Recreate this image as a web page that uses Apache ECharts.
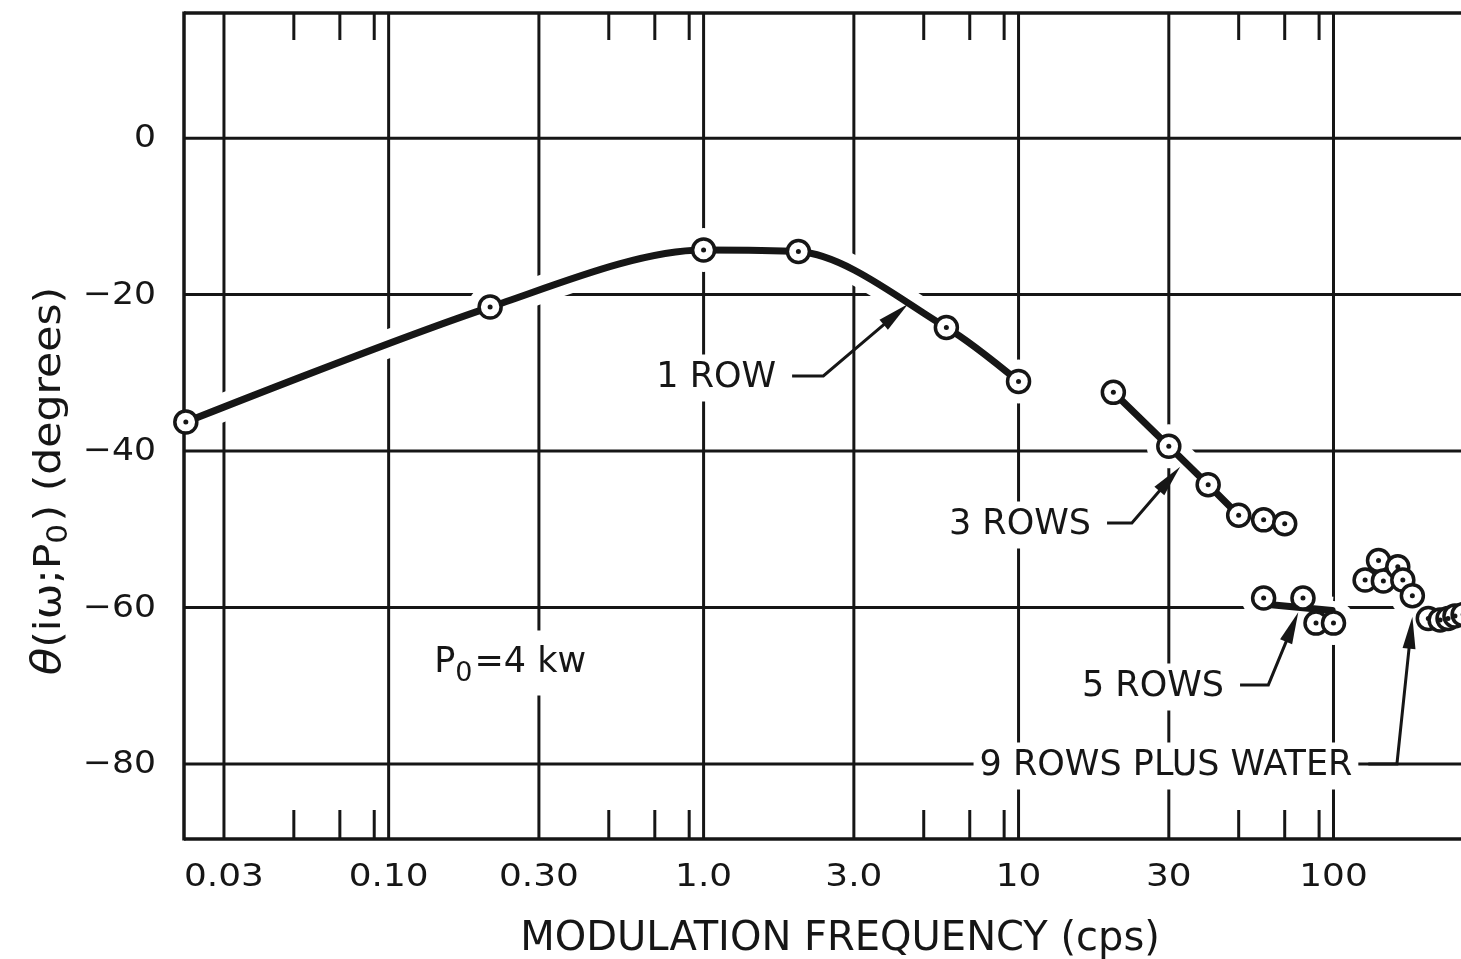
<!DOCTYPE html>
<html>
<head>
<meta charset="utf-8">
<title>θ(iω;P0) vs modulation frequency</title>
<script src="https://cdn.jsdelivr.net/npm/echarts@6.0.0/dist/echarts.min.js"></script>
<style>
  html, body { margin: 0; padding: 0; background: #fff; }
  #chart { width: 1461px; height: 959px; }
</style>
</head>
<body>
<div id="chart"></div>
<script>
// ---- measured phase (degrees) against modulation frequency (cps) ----
const oneRow = [[0.0227, -36.3], [0.21, -21.6], [1.0, -14.3], [2.0, -14.5], [5.9, -24.2], [10, -31.1]];
const threeRows = [[20, -32.5], [30, -39.4], [40, -44.3], [50, -48.2], [60, -48.8], [70, -49.3]];
const threeRowsLine = [[20, -32.5], [30, -39.4], [40, -44.3], [50, -48.2]];
const fiveRows = [[60, -58.8], [80, -58.8], [88, -62.0], [100, -62.0]];
const fiveRowsLine = [[61, -59.6], [99, -60.4]];
const nineRowsWater = [[126, -56.5], [139, -54.0], [144, -56.6], [160, -54.8], [166, -56.5], [178, -58.5],
                       [200, -61.4], [218, -61.6], [231, -61.4], [243, -61.1], [258, -60.9]];

// ---- axes ----
const xRange = [0.0224, 254];
const yRange = [-89.6, 16];
const xMajorTicks = [0.03, 0.1, 0.3, 1, 3, 10, 30, 100];
const xTickLabels = ['0.03', '0.10', '0.30', '1.0', '3.0', '10', '30', '100'];
const xMinorTicks = [0.05, 0.07, 0.09, 0.5, 0.7, 0.9, 5, 7, 9, 50, 70, 90];
const yTicks = [0, -20, -40, -60, -80];
const yTickLabels = ['0', '−20', '−40', '−60', '−80'];

// ---- annotations: text, then leader start, elbow, arrow tip ----
const notes = [
  { text: '1 ROW', path: [[1.91, -30.4], [2.40, -30.4], [4.46, -21.2]] },
  { text: '3 ROWS', path: [[19.1, -49.2], [22.9, -49.2], [32.6, -42.0]] },
  { text: '5 ROWS', path: [[50.5, -69.9], [62.1, -69.9], [77.3, -60.6]] },
  { text: '9 ROWS PLUS WATER', path: [[129, -80.0], [159, -80.0], [178, -61.2]] }
];
const powerNote = { at: [0.243, -67.1] };

const INK = '#161616';
const FONT = 'DejaVu Sans';
const SMOOTH = 0.3;
const allPoints = oneRow.concat(threeRows, fiveRows, nineRowsWater);

const chart = echarts.init(document.getElementById('chart'), null, { renderer: 'canvas' });

function lineEl(x1, y1, x2, y2, w) {
  return { type: 'line', shape: { x1, y1, x2, y2 }, style: { stroke: INK, lineWidth: w, lineCap: 'butt' } };
}

const series = [
  // vertical grid lines with frequency labels
  {
    type: 'custom', z: 0, silent: true, clip: false,
    data: xMajorTicks.map((v, i) => [v, yRange[0], i]),
    renderItem(params, api) {
      const cs = params.coordSys;
      const x = api.coord([api.value(0), yRange[0]])[0];
      return { type: 'group', children: [
        lineEl(x, cs.y, x, cs.y + cs.height, 3),
        { type: 'text', x: x, y: cs.y + cs.height + 39, scaleX: 1.12,
          style: { text: xTickLabels[api.value(2)], align: 'center', verticalAlign: 'middle',
                   fontSize: 32, fontFamily: FONT, fill: INK } }
      ]};
    }
  },
  // horizontal grid lines with phase labels
  {
    type: 'custom', z: 0, silent: true, clip: false,
    data: yTicks.map((v, i) => [xRange[0], v, i]),
    renderItem(params, api) {
      const cs = params.coordSys;
      const y = api.coord([xRange[0], api.value(1)])[1];
      return { type: 'group', children: [
        lineEl(cs.x, y, cs.x + cs.width, y, 3),
        { type: 'text', x: cs.x - 28, y: y + 1, scaleX: 1.08,
          style: { text: yTickLabels[api.value(2)], align: 'right', verticalAlign: 'middle',
                   fontSize: 32, fontFamily: FONT, fill: INK } }
      ]};
    }
  },
  // white clearance around the curves and points
  { type: 'line', z: 1, silent: true, data: oneRow, smooth: SMOOTH, showSymbol: false,
    lineStyle: { color: '#fff', width: 28, opacity: 1 } },
  { type: 'line', z: 1, silent: true, data: threeRowsLine, showSymbol: false,
    lineStyle: { color: '#fff', width: 28, opacity: 1 } },
  { type: 'line', z: 1, silent: true, data: fiveRowsLine, showSymbol: false,
    lineStyle: { color: '#fff', width: 28, opacity: 1 } },
  { type: 'scatter', z: 1, silent: true, clip: false, data: allPoints, symbolSize: 44,
    itemStyle: { color: '#fff', opacity: 1 } },
  // plot frame and minor ticks
  {
    type: 'custom', z: 2, silent: true, clip: false,
    data: [[xRange[0], yRange[0]]],
    renderItem(params, api) {
      const cs = params.coordSys;
      const top = cs.y, bottom = cs.y + cs.height, left = cs.x, right = cs.x + cs.width;
      const children = [
        lineEl(left, top - 1.5, left, bottom + 1.5, 3.5),
        lineEl(left, top, right, top, 3.5),
        lineEl(left, bottom, right, bottom, 3.5)
      ];
      xMinorTicks.forEach(v => {
        const x = api.coord([v, yRange[0]])[0];
        children.push(lineEl(x, top, x, top + 27, 3));
        children.push(lineEl(x, bottom, x, bottom - 29, 3));
      });
      return { type: 'group', children };
    }
  },
  // curves
  { name: '1 ROW', type: 'line', z: 3, silent: true, data: oneRow, smooth: SMOOTH, showSymbol: false,
    lineStyle: { color: INK, width: 7, cap: 'round', opacity: 1 } },
  { name: '3 ROWS', type: 'line', z: 3, silent: true, data: threeRowsLine, showSymbol: false,
    lineStyle: { color: INK, width: 7, cap: 'round', opacity: 1 } },
  { name: '5 ROWS', type: 'line', z: 3, silent: true, data: fiveRowsLine, showSymbol: false,
    lineStyle: { color: INK, width: 7, cap: 'round', opacity: 1 } },
  // measured points: open circle with a centre dot
  { type: 'scatter', z: 4, silent: true, clip: false, data: allPoints, symbolSize: 22,
    itemStyle: { color: '#fff', borderColor: INK, borderWidth: 3.5, opacity: 1 } },
  { type: 'scatter', z: 5, silent: true, clip: false, data: allPoints, symbolSize: 5,
    itemStyle: { color: INK, opacity: 1 } },
  // annotations with leaders and arrows
  {
    type: 'custom', z: 6, silent: true, clip: false,
    data: notes.map((n, i) => [n.path[2][0], n.path[2][1], i]),
    renderItem(params, api) {
      const n = notes[api.value(2)];
      const p = n.path.map(c => api.coord(c));
      const tip = p[p.length - 1], prev = p[p.length - 2];
      const dx = tip[0] - prev[0], dy = tip[1] - prev[1];
      const len = Math.hypot(dx, dy), ux = dx / len, uy = dy / len;
      const L = 32, W = 6.5;
      const bx = tip[0] - ux * L, by = tip[1] - uy * L;
      const shaftEnd = [tip[0] - ux * (L - 4), tip[1] - uy * (L - 4)];
      return { type: 'group', children: [
        { type: 'text', x: p[0][0] - 10, y: p[0][1] + 2,
          style: { text: n.text, align: 'right', verticalAlign: 'middle', fontSize: 35,
                   fontFamily: FONT, fill: INK, backgroundColor: '#fff', padding: [6, 6, 6, 6] } },
        { type: 'polyline', shape: { points: [p[0], p[1], shaftEnd] },
          style: { stroke: INK, lineWidth: 3, fill: null } },
        { type: 'polygon', shape: { points: [tip, [bx - uy * W, by + ux * W], [bx + uy * W, by - ux * W]] },
          style: { fill: INK } }
      ]};
    }
  },
  // operating power note
  {
    type: 'custom', z: 6, silent: true, clip: false,
    data: [powerNote.at],
    renderItem(params, api) {
      const c = api.coord([api.value(0), api.value(1)]);
      return { type: 'text', x: c[0], y: c[1],
        style: { text: '{n|P}{s|0}{n|=4 kw}', align: 'center', verticalAlign: 'middle',
                 fill: INK, backgroundColor: '#fff', padding: [8, 10, 8, 10],
                 rich: { n: { fontSize: 35, fontFamily: FONT, fill: INK },
                         s: { fontSize: 27, fontFamily: FONT, fill: INK, padding: [22, 2, 0, 0] } } } };
    }
  }
];

chart.setOption({
  animation: false,
  backgroundColor: '#fff',
  grid: { left: 184, top: 13, right: 0, bottom: 120, containLabel: false },
  xAxis: { type: 'log', logBase: 10, min: xRange[0], max: xRange[1], show: false },
  yAxis: { type: 'value', min: yRange[0], max: yRange[1], show: false },
  graphic: [
    { type: 'text', x: 840, y: 940, z: 10,
      style: { text: 'MODULATION FREQUENCY (cps)', align: 'center', verticalAlign: 'middle',
               fontSize: 40, fontFamily: FONT, fill: INK } },
    { type: 'text', x: 50, y: 481, rotation: Math.PI / 2, scaleX: 1.12, z: 10,
      style: { text: '{t|θ}{n|(iω;P}{s|0}{n|) (degrees)}', align: 'center', verticalAlign: 'middle',
               fill: INK,
               rich: { t: { fontSize: 40, fontFamily: FONT, fontStyle: 'italic', fill: INK },
                       n: { fontSize: 38, fontFamily: FONT, fill: INK },
                       s: { fontSize: 28, fontFamily: FONT, fill: INK, padding: [20, 2, 0, 0] } } } }
  ],
  series
});
</script>
</body>
</html>
